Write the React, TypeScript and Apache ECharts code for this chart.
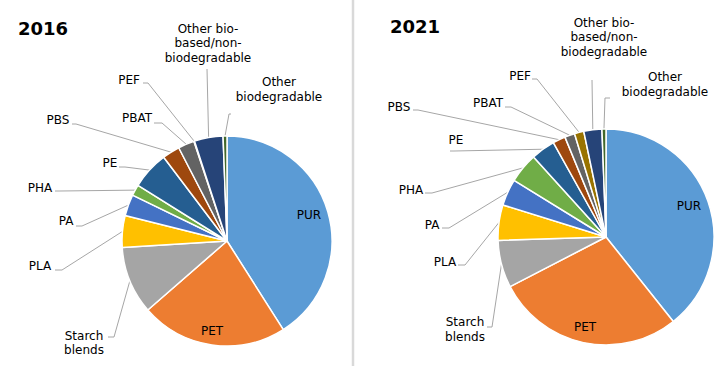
import React, { useEffect, useRef } from 'react';
import * as echarts from 'echarts';

const categories = ['PUR', 'PET', 'Starch blends', 'PLA', 'PA', 'PHA', 'PE', 'PBS', 'PBAT', 'PEF', 'Other bio-based/non-biodegradable', 'Other biodegradable'];
const labelTexts = ['PUR', 'PET', 'Starch\nblends', 'PLA', 'PA', 'PHA', 'PE', 'PBS', 'PBAT', 'PEF', 'Other bio-\nbased/non-\nbiodegradable', 'Other\nbiodegradable'];
const values2016 = [41.0, 22.6, 10.4, 4.9, 3.3, 1.7, 5.8, 2.7, 2.5, 0.1, 4.4, 0.6];
const values2021 = [39.3, 28.1, 7.1, 5.3, 4.0, 4.5, 3.6, 1.9, 1.5, 1.4, 2.7, 0.6];
const years = ['2016', '2021'];
const colors = ['#5B9BD5', '#ED7D31', '#A5A5A5', '#FFC000', '#4472C4', '#70AD47', '#255E91', '#9E480E', '#636363', '#997300', '#264478', '#43682B'];

// label placement (offsets from pie centre): label centre, line tail, line elbow
type LP = { label: number[]; tail?: number[]; elbow?: number[] };
const layout2016: LP[] = [
  { label: [82, -26] },
  { label: [-15, 90] },
  { label: [-143, 102], tail: [-119, 96], elbow: [-113, 96] },
  { label: [-187, 25], tail: [-172, 29], elbow: [-165, 29] },
  { label: [-161, -20], tail: [-151, -15], elbow: [-145, -15] },
  { label: [-187, -53], tail: [-172, -50], elbow: [-167, -50] },
  { label: [-117, -78], tail: [-108, -74], elbow: [-102, -74] },
  { label: [-169, -121], tail: [-155, -117], elbow: [-151, -117] },
  { label: [-90, -123], tail: [-73, -118], elbow: [-65, -118] },
  { label: [-98, -161], tail: [-84, -158], elbow: [-79, -158] },
  { label: [-19, -198], tail: [-20, -172], elbow: [-20, -172] },
  { label: [52, -151.5], tail: [4, -127], elbow: [2, -127] },
];
const layout2021: LP[] = [
  { label: [83, -31] },
  { label: [-21, 90] },
  { label: [-141, 92.5], tail: [-119, 90], elbow: [-114, 90] },
  { label: [-161, 25], tail: [-148, 28], elbow: [-141, 28] },
  { label: [-174, -12], tail: [-164, -9], elbow: [-157, -9] },
  { label: [-195, -47], tail: [-181, -44], elbow: [-174, -44] },
  { label: [-150, -97], tail: [-156, -86], elbow: [-152, -86] },
  { label: [-207, -130], tail: [-193, -127], elbow: [-188, -127] },
  { label: [-118, -134], tail: [-101, -130], elbow: [-95, -130] },
  { label: [-86, -161], tail: [-74, -158], elbow: [-69, -158] },
  { label: [-2, -200], tail: [-14, -157], elbow: [-14, -157] },
  { label: [59, -152.5], tail: [4, -139], elbow: [-1, -139] },
];

const FONT = 'DejaVu Sans';

function makeSeries(values: number[], cx: number, cy: number, r: number, lay: LP[]) {
  return {
    type: 'pie',
    center: [cx, cy],
    radius: r,
    startAngle: 90,
    clockwise: true,
    avoidLabelOverlap: false,
    silent: true,
    emphasis: { disabled: true },
    itemStyle: { borderColor: '#ffffff', borderWidth: 1.5 },
    label: {
      show: true,
      position: 'outside',
      formatter: (p: any) => labelTexts[p.dataIndex],
      fontFamily: FONT,
      fontSize: 12,
      color: '#000000',
      lineHeight: 14.5,
      align: 'center',
    },
    labelLine: { show: true, length: 6, length2: 6, lineStyle: { color: '#a6a6a6', width: 1 } },
    labelLayout: (params: any) => {
      const L = lay[params.dataIndex];
      const res: any = { x: cx + L.label[0], y: cy + L.label[1], align: 'center', verticalAlign: 'middle' };
      if (L.tail && L.elbow && params.labelLinePoints && params.labelLinePoints.length) {
        const edge = params.labelLinePoints[0];
        res.labelLinePoints = [
          [edge[0], edge[1]],
          [cx + L.elbow[0], cy + L.elbow[1]],
          [cx + L.tail[0], cy + L.tail[1]],
        ];
      }
      return res;
    },
    data: values.map((v, i) => ({
      value: v,
      name: categories[i],
      itemStyle: { color: colors[i] },
      labelLine: { show: i > 1 },
    })),
  };
}

export default function App() {
  const ref = useRef<HTMLDivElement>(null);
  useEffect(() => {
    if (!ref.current) return;
    const chart = echarts.init(ref.current, null, { renderer: 'svg' });
    chart.setOption({
      animation: false,
      backgroundColor: '#ffffff',
      graphic: [
        { type: 'line', shape: { x1: 353, y1: 0, x2: 353, y2: 366 }, style: { stroke: '#d9d9d9', lineWidth: 2.5 } },
        { type: 'text', x: 18, y: 28.5, style: { text: years[0], font: `bold 18px "${FONT}"`, fill: '#000', textVerticalAlign: 'middle' } },
        { type: 'text', x: 390, y: 26.5, style: { text: years[1], font: `bold 18px "${FONT}"`, fill: '#000', textVerticalAlign: 'middle' } },
      ],
      series: [
        makeSeries(values2016, 227, 241, 105, layout2016),
        makeSeries(values2021, 606, 237, 108, layout2021),
      ],
    });
    return () => chart.dispose();
  }, []);
  return <div ref={ref} style={{ position: 'fixed', left: 0, top: 0, width: 724, height: 366, background: '#fff' }} />;
}
